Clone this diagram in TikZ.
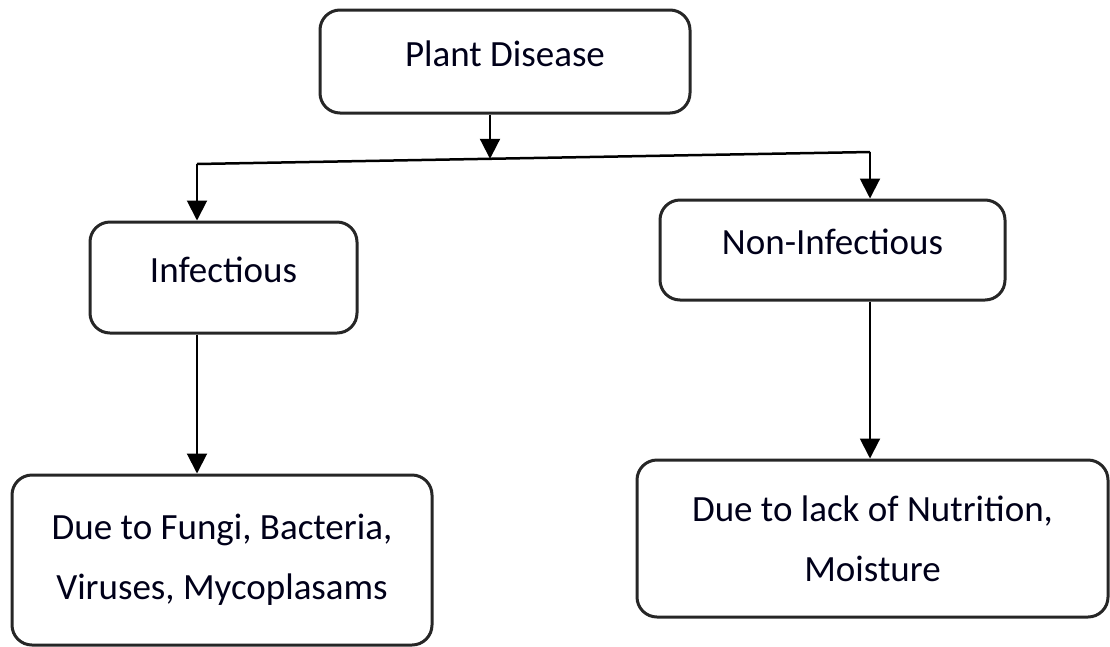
\documentclass[tikz,border=0pt]{standalone}
\usepackage{fontspec}
\setmainfont{Carlito}
\usetikzlibrary{arrows.meta,calc}
\begin{document}
\begin{tikzpicture}[x=1pt,y=-1pt,
  box/.style={draw=black!85,line width=3pt,rounded corners=20pt,align=center,
    font=\fontsize{37}{60}\selectfont,inner sep=0pt,text=black!90!blue},
  up/.style={text depth=16pt},
  arr/.style={line width=2pt,-{Triangle[width=20pt,length=20pt]}}]
\useasboundingbox (0,0) rectangle (1110,646);
\node[box,up,minimum width=370pt,minimum height=103pt] (pd) at (505,61.5) {Plant Disease};
\node[box,up,minimum width=267pt,minimum height=111pt] (inf) at (223.5,277.5) {Infectious};
\node[box,up,minimum width=345pt,minimum height=100pt] (non) at (832.5,250) {Non-Infectious};
\node[box,minimum width=420pt,minimum height=170pt] (fungi) at (222,560) {Due to Fungi, Bacteria,\\Viruses, Mycoplasams};
\node[box,minimum width=471pt,minimum height=157pt] (nut) at (872.5,538.5) {Due to lack of Nutrition,\\Moisture};
\coordinate (L) at (197,164);
\coordinate (R) at (870,152);
\coordinate (J) at (490,158.8);
\draw[line width=2.5pt] (L) -- (R);
\draw[arr] (J |- pd.south) -- (J);
\draw[arr] (L) -- (L |- inf.north);
\draw[arr] (R) -- (R |- non.north);
\draw[arr] (L |- inf.south) -- (L |- fungi.north);
\draw[arr] (R |- non.south) -- (R |- nut.north);
\end{tikzpicture}
\end{document}
